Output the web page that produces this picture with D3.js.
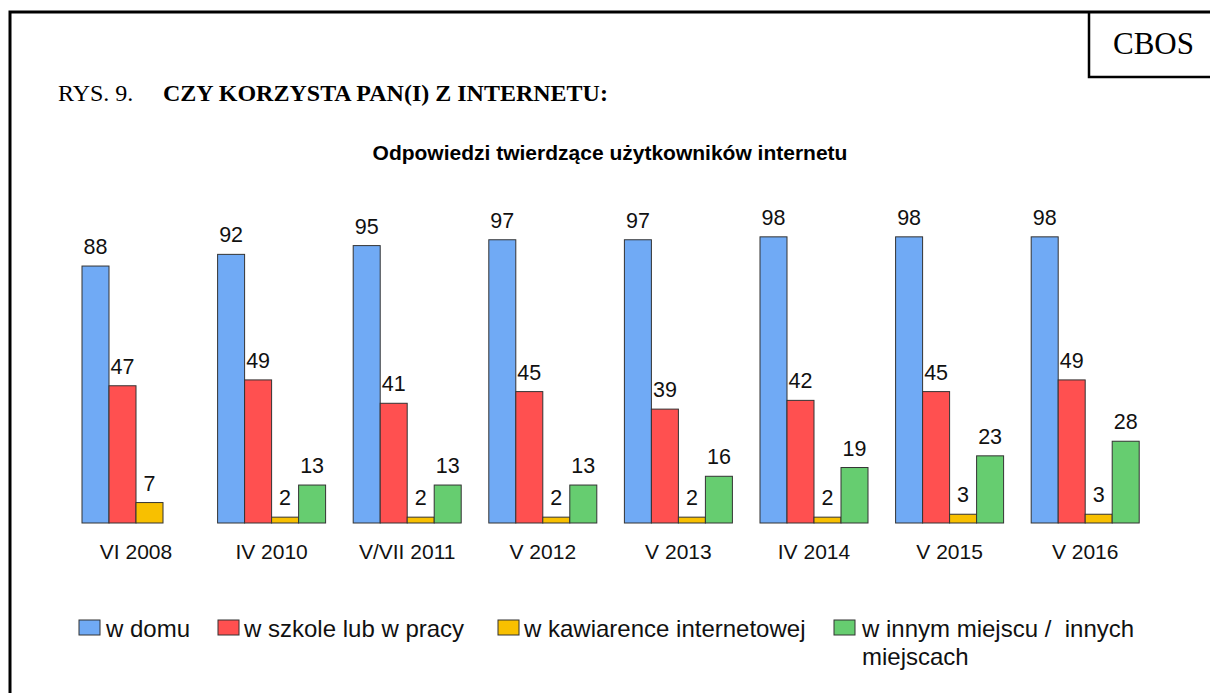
<!DOCTYPE html>
<html><head><meta charset="utf-8">
<script src="https://cdn.jsdelivr.net/npm/d3@7"></script>
<style>
html,body{margin:0;padding:0;background:#fff;}
svg{display:block;}
</style></head>
<body>
<script>
const categories = ["VI 2008","IV 2010","V/VII 2011","V 2012","V 2013","IV 2014","V 2015","V 2016"];
const seriesNames = ["w domu","w szkole lub w pracy","w kawiarence internetowej","w innym miejscu /  innych|miejscach"];
const wDomu =       [88,92,95,97,97,98,98,98];
const wSzkole =     [47,49,41,45,39,42,45,49];
const wKawiarence = [7,2,2,2,2,2,3,3];
const wInnym =      [null,13,13,13,16,19,23,28];
const colors = ["#70aaf5","#ff5050","#f8c000","#66cd70"];

const W=1210,H=693;
const SERIF="Liberation Serif, Times New Roman, serif";
const SANS="Liberation Sans, Arial, sans-serif";
const svg=d3.select("body").append("svg").attr("width",W).attr("height",H);
svg.append("rect").attr("width",W).attr("height",H).attr("fill","#fff");

// frame
svg.append("path").attr("d","M10,693 V12 H1212").attr("fill","none").attr("stroke","#000").attr("stroke-width",3);
svg.append("path").attr("d","M1089,12 V77 H1212").attr("fill","none").attr("stroke","#000").attr("stroke-width",2.5);
svg.append("text").attr("x",1153.5).attr("y",54).attr("text-anchor","middle")
  .attr("font-family",SERIF).attr("font-size",31).text("CBOS");

svg.append("text").attr("x",58).attr("y",101).attr("font-family",SERIF)
  .attr("font-size",24).text("RYS. 9.");
svg.append("text").attr("x",163).attr("y",101).attr("font-family",SERIF)
  .attr("font-size",24).attr("font-weight","bold").text("CZY KORZYSTA PAN(I) Z INTERNETU:");

svg.append("text").attr("x",610).attr("y",160).attr("text-anchor","middle")
  .attr("font-family",SANS).attr("font-size",21).attr("font-weight","bold")
  .text("Odpowiedzi twierdzące użytkowników internetu");

const series=[wDomu,wSzkole,wKawiarence,wInnym];
const x0=d3.scaleBand().domain(categories).range([82,1139.2]).paddingInner(0.2035).paddingOuter(0);
const x1=d3.scaleBand().domain(d3.range(4)).range([0,x0.bandwidth()]).padding(0);
const y=d3.scaleLinear().domain([0,100]).range([523,231]);

const g=svg.append("g");
categories.forEach((c,i)=>{
  const gg=g.append("g").attr("transform",`translate(${x0(c)},0)`);
  series.forEach((s,k)=>{
    const v=s[i]; if(v==null) return;
    gg.append("rect").attr("x",x1(k)).attr("y",y(v)).attr("width",x1.bandwidth()).attr("height",y(0)-y(v))
      .attr("fill",colors[k]).attr("stroke","#333").attr("stroke-width",1);
    gg.append("text").attr("x",x1(k)+x1.bandwidth()/2).attr("y",y(v)-12).attr("text-anchor","middle")
      .attr("font-family",SANS).attr("font-size",21.5).attr("fill","#111").text(v);
  });
  svg.append("text").attr("x",x0(c)+x0.bandwidth()/2).attr("y",559).attr("text-anchor","middle")
    .attr("font-family",SANS).attr("font-size",21).attr("fill","#111").text(c);
});

// legend
const legX=[79,218,498,834];
const legT=[106,244,524,862];
seriesNames.forEach((n,k)=>{
  svg.append("rect").attr("x",legX[k]).attr("y",620).attr("width",21).attr("height",15)
    .attr("fill",colors[k]).attr("stroke","#333").attr("stroke-width",1);
  const lines=n.split("|");
  lines.forEach((ln,j)=>{
    svg.append("text").attr("x",legT[k]).attr("y",637+j*28).attr("xml:space","preserve")
      .style("white-space","pre")
      .attr("font-family",SANS).attr("font-size",24).attr("fill","#111").text(ln);
  });
});
</script>
</body></html>
